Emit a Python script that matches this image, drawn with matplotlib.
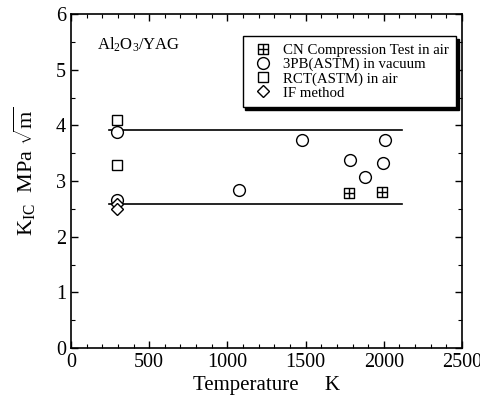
import numpy as np
import matplotlib
matplotlib.use("Agg")
import matplotlib.pyplot as plt
from matplotlib.path import Path

plt.rcParams['font.family'] = 'Liberation Serif'
plt.rcParams['mathtext.fontset'] = 'custom'
plt.rcParams['mathtext.rm'] = 'Liberation Serif'
plt.rcParams['mathtext.it'] = 'Liberation Serif:italic'

# --- data ---
cn_T = [1777, 1990]
cn_K = [2.78, 2.81]

pb3_T = [296, 296, 1076, 1479, 1782, 1880, 1995, 2005]
pb3_K = [3.88, 2.65, 2.83, 3.73, 3.38, 3.08, 3.33, 3.73]

rct_T = [296, 296]
rct_K = [4.10, 3.29]

if_T = [296, 296]
if_K = [2.58, 2.49]

line_T = [243, 2118]
upper_K = [3.91, 3.91]
lower_K = [2.59, 2.59]

# square with a cross in it
sq_plus = Path(
    [(-1, -1), (1, -1), (1, 1), (-1, 1), (-1, -1),
     (0, -1), (0, 1), (-1, 0), (1, 0)],
    [Path.MOVETO, Path.LINETO, Path.LINETO, Path.LINETO, Path.CLOSEPOLY,
     Path.MOVETO, Path.LINETO, Path.MOVETO, Path.LINETO])

fig = plt.figure(figsize=(4.81, 4.0), dpi=100)
ax = fig.add_axes([0.1476, 0.13, 0.8129, 0.835])

ax.plot(line_T, upper_K, color='black', lw=1.2)
ax.plot(line_T, lower_K, color='black', lw=1.2)

mk = dict(linestyle='none', color='black', mfc='white', mew=1.0)
ax.plot(cn_T, cn_K, marker=sq_plus, ms=6.5, label='CN Compression Test in air', **mk)
ax.plot(pb3_T, pb3_K, marker='o', ms=8.5, label='3PB(ASTM) in vacuum', **mk)
ax.plot(rct_T, rct_K, marker='s', ms=6.5, label='RCT(ASTM) in air', **mk)
ax.plot(if_T, if_K, marker='D', ms=6, label='IF method', **mk)

ax.text(166, 5.45, r'Al$_2$O$_3$/YAG', fontsize=12, va='center')

ax.set_xlim(0, 2500)
ax.set_ylim(0, 6)
ax.set_xticks(np.arange(0, 2501, 500))
ax.set_xticks(np.arange(0, 2501, 100), minor=True)
ax.set_yticks(np.arange(0, 7, 1))
ax.set_yticks(np.arange(0, 6.01, 0.5), minor=True)
ax.tick_params(which='both', direction='in', top=True, right=True, labelsize=14.5)
ax.tick_params(which='major', length=5, width=1)
ax.tick_params(which='minor', length=3, width=0.8)
for s in ax.spines.values():
    s.set_linewidth(1.2)

ax.set_xlabel('Temperature     K', fontsize=15, labelpad=3)
ax.set_ylabel(r'K$_{\mathrm{IC}}$  MPa $\sqrt{\mathrm{m}}$', fontsize=16, labelpad=13)
ax.yaxis.label.set_y(0.53)

leg = ax.legend(loc='upper right', bbox_to_anchor=(0.985, 0.934), borderaxespad=0,
                fontsize=10.7, frameon=True, fancybox=False, edgecolor='black',
                shadow={'color': 'black', 'alpha': 1}, labelspacing=0.05,
                handlelength=1.7, handletextpad=0.5, borderpad=0.5, numpoints=1)
leg.get_frame().set_linewidth(1.0)
leg.get_frame().set_alpha(1)

fig.savefig('out.png', dpi=100)
